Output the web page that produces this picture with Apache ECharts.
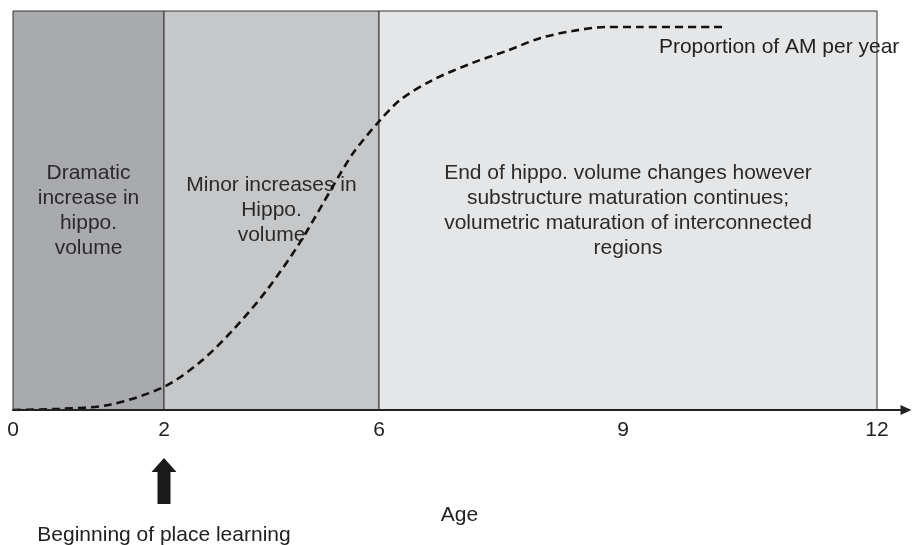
<!DOCTYPE html>
<html>
<head>
<meta charset="utf-8">
<script src="https://cdn.jsdelivr.net/npm/echarts@6/dist/echarts.min.js"></script>
<style>
html,body{margin:0;padding:0;background:#fff}
#chart{width:913px;height:545px}
</style>
</head>
<body>
<div id="chart"></div>
<script>
// ages on the axis and the AM curve
var ageTicks = [0, 2, 6, 9, 12];
var curveAges = [0, 0.62, 1.28, 2.0, 2.67, 3.28, 3.91, 4.53, 5.14, 5.52, 5.98, 6.26, 6.66, 7.15, 7.57, 7.98, 8.38, 8.80, 9.2, 10.18];
var curveValues = [0, 0.003, 0.013, 0.058, 0.12, 0.20, 0.30, 0.42, 0.56, 0.644, 0.72, 0.777, 0.827, 0.87, 0.90, 0.932, 0.95, 0.96, 0.96, 0.96];
var stageStart = [0, 2, 6];
var stageEnd = [2, 6, 12];
var stageLabels = [
	'Dramatic\nincrease in\nhippo.\nvolume',
	'Minor increases in\nHippo.\nvolume',
	'End of hippo. volume changes however\nsubstructure maturation continues;\nvolumetric maturation of interconnected\nregions'
];
var stageColors = ['#a9aaad', '#c6c7c9', '#e5e6e7'];
var curveName = 'Proportion of AM per year';
var axisName = 'Age';
var noteAge = 2;
var noteText = 'Beginning of place learning';

// the drawing is not to scale, every tick age has its own spot on the axis
var tickSpots = [0, 151, 366, 610, 864];
function warp(age) {
	for (var i = 1; i < ageTicks.length; i++) {
		if (age <= ageTicks[i]) {
			var t = (age - ageTicks[i - 1]) / (ageTicks[i] - ageTicks[i - 1]);
			return tickSpots[i - 1] + t * (tickSpots[i] - tickSpots[i - 1]);
		}
	}
	return tickSpots[tickSpots.length - 1];
}

var font = 'Liberation Sans, Arial, sans-serif';
var fs = 21;
var chart = echarts.init(document.getElementById('chart'));

var curveData = [];
for (var i = 0; i < curveAges.length; i++) {
	curveData.push([warp(curveAges[i]), curveValues[i]]);
}

var areas = [];
for (var k = 0; k < stageStart.length; k++) {
	areas.push([
		{xAxis: warp(stageStart[k]), yAxis: 0, name: stageLabels[k], itemStyle: {color: stageColors[k]}},
		{xAxis: warp(stageEnd[k]), yAxis: 1}
	]);
}

var option = {
	animation: false,
	grid: {left: 13, right: 7, top: 11, bottom: 135},
	xAxis: {
		type: 'value',
		min: 0,
		max: 893,
		z: 10,
		axisLine: {
			show: true,
			symbol: ['none', 'triangle'],
			symbolSize: [10, 11],
			lineStyle: {color: '#222', width: 2}
		},
		axisTick: {show: false},
		splitLine: {show: false},
		axisLabel: {
			customValues: ageTicks.map(warp),
			margin: 10,
			fontSize: fs,
			color: '#222',
			fontFamily: font,
			formatter: function (v) {
				var idx = tickSpots.indexOf(Math.round(v));
				return idx < 0 ? '' : String(ageTicks[idx]);
			}
		},
		name: axisName,
		nameLocation: 'middle',
		nameGap: 95,
		nameTextStyle: {fontSize: fs, color: '#222', fontFamily: font}
	},
	yAxis: {
		type: 'value',
		min: 0,
		max: 1,
		show: false
	},
	series: [
		{
			// stage boxes
			type: 'line',
			data: [],
			z: 1,
			markArea: {
				silent: true,
				itemStyle: {borderColor: '#333', borderWidth: 1},
				label: {
					show: true,
					position: 'inside',
					fontSize: fs,
					lineHeight: 25,
					color: '#2a2a2a',
					fontFamily: font,
					align: 'center'
				},
				data: areas
			}
		},
		{
			name: curveName,
			type: 'line',
			z: 5,
			data: curveData,
			smooth: 0.3,
			showSymbol: false,
			lineStyle: {color: '#111', width: 2.6, type: [8, 5]},
			endLabel: {
				show: true,
				formatter: curveName,
				offset: [-72, 20],
				fontSize: fs,
				color: '#222',
				fontFamily: font
			}
		}
	]
};
chart.setOption(option);

// thick arrow and note under the axis at the start of place learning
var p = chart.convertToPixel({gridIndex: 0}, [warp(noteAge), 0]);
var ax = p[0];
chart.setOption({
	graphic: [
		{
			type: 'polygon',
			shape: {points: [[ax, 458], [ax + 12.5, 472], [ax + 6.5, 472], [ax + 6.5, 504], [ax - 6.5, 504], [ax - 6.5, 472], [ax - 12.5, 472]]},
			style: {fill: '#1a1a1a'}
		},
		{
			type: 'text',
			x: ax,
			y: 535,
			style: {text: noteText, fill: '#222', font: fs + 'px ' + font, textAlign: 'center', textVerticalAlign: 'middle'}
		}
	]
});
</script>
</body>
</html>
